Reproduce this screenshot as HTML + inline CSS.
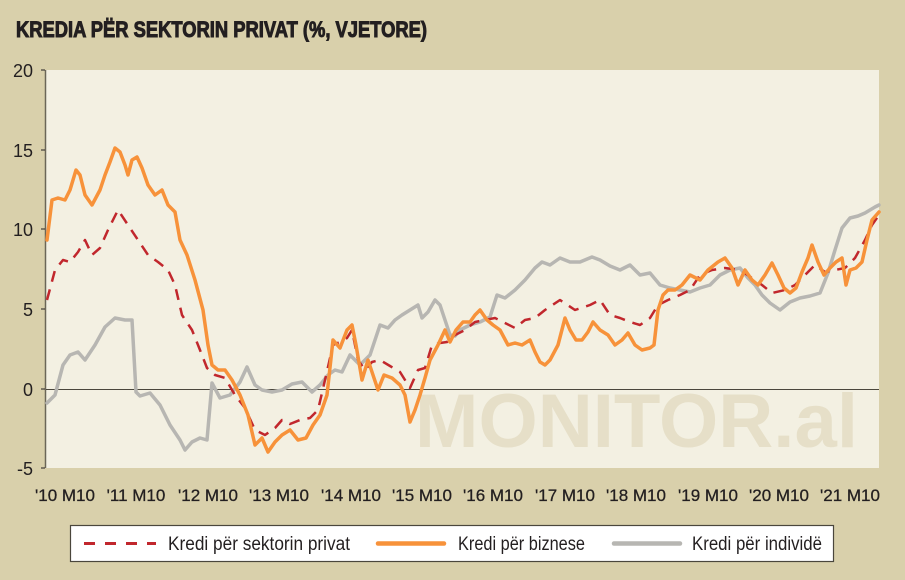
<!DOCTYPE html>
<html><head><meta charset="utf-8"><style>
html,body{margin:0;padding:0;background:#d9d0ab;}
svg{display:block;font-family:"Liberation Sans Narrow","Liberation Sans",sans-serif;}
</style></head><body>
<svg width="905" height="580" viewBox="0 0 905 580" xmlns="http://www.w3.org/2000/svg">
<rect width="905" height="580" fill="#d9d0ab"/>
<text x="16" y="37" font-size="22" font-weight="bold" fill="#231f20" stroke="#231f20" stroke-width="1" textLength="411" lengthAdjust="spacingAndGlyphs">KREDIA PËR SEKTORIN PRIVAT (%, VJETORE)</text>
<rect x="46" y="70" width="833" height="398" fill="#f3f0e2"/>
<line x1="45.5" y1="70" x2="45.5" y2="468" stroke="#6b6657" stroke-width="1.5"/>
<g stroke="#231f20" stroke-width="1">
<line x1="41" y1="70" x2="45" y2="70"/><line x1="41" y1="150" x2="45" y2="150"/><line x1="41" y1="229" x2="45" y2="229"/><line x1="41" y1="309" x2="45" y2="309"/><line x1="41" y1="389" x2="45" y2="389"/><line x1="41" y1="468" x2="45" y2="468"/>
</g>
<line x1="46" y1="389.5" x2="879" y2="389.5" stroke="#4a463c" stroke-width="1"/>
<text x="858" y="447" font-family="Liberation Sans,sans-serif" font-size="76" font-weight="bold" fill="#e6dfc8" text-anchor="end" textLength="443" lengthAdjust="spacingAndGlyphs">MONITOR.al</text>
<g font-size="18" fill="#231f20" text-anchor="end">
<text x="33" y="77">20</text><text x="33" y="157">15</text><text x="33" y="236">10</text><text x="33" y="316">5</text><text x="33" y="396">0</text><text x="33" y="475">-5</text>
</g>
<g font-size="17" fill="#231f20" text-anchor="middle" stroke="#231f20" stroke-width="0.3">
<text x="65" y="501">'10 M10</text><text x="136" y="501">'11 M10</text><text x="208" y="501">'12 M10</text><text x="279" y="501">'13 M10</text><text x="351" y="501">'14 M10</text><text x="422" y="501">'15 M10</text><text x="493" y="501">'16 M10</text><text x="565" y="501">'17 M10</text><text x="636" y="501">'18 M10</text><text x="708" y="501">'19 M10</text><text x="779" y="501">'20 M10</text><text x="850" y="501">'21 M10</text>
</g>
<g fill="none" stroke-linejoin="round" stroke-linecap="round">
<polyline stroke="#b7b6b2" stroke-width="3.5" points="47,403 55,395 63,365 70,355 78,352 85,360 95,345 105,327 115,318 125,320 132,320 136,392 140,396 150,393 160,405 170,425 180,440 185,450 192,442 200,438 207,440 212,383 220,398 230,395 240,382 247,367 255,385 262,390 272,392 282,390 292,384 302,382 312,392 320,385 328,375 335,370 342,372 350,355 360,365 370,355 380,325 388,328 395,320 402,315 410,310 418,305 422,318 428,312 435,300 440,305 445,320 450,335 455,336 460,330 470,325 480,322 490,317 497,295 505,298 515,290 525,280 535,268 542,262 550,265 560,258 570,262 580,262 592,257 600,260 610,266 620,270 630,265 640,275 650,273 660,285 670,288 680,290 690,292 700,288 710,285 720,275 730,270 740,268 748,278 755,285 762,295 770,303 780,310 790,302 800,298 810,296 820,293 828,273 835,250 842,228 850,218 858,216 865,213 870,210 875,207 879,205"/>
<polyline stroke="#c1272d" stroke-width="2.5" stroke-dasharray="11,8" stroke-linecap="butt" points="47,300 55,270 63,260 70,262 78,252 85,240 92,255 100,248 108,230 118,210 128,225 138,240 148,255 158,262 168,270 175,285 182,315 192,330 200,350 207,368 215,375 225,378 235,395 245,408 255,430 265,435 275,428 282,420 290,424 300,420 310,418 318,410 325,380 333,345 340,342 347,338 352,330 358,360 365,370 372,362 380,360 390,366 400,372 410,388 418,370 425,368 432,345 440,343 447,342 455,335 465,330 475,322 485,320 495,318 505,323 515,328 525,320 535,318 545,310 560,300 575,310 590,305 600,300 610,315 620,318 630,322 640,325 650,318 658,305 668,300 680,295 690,290 700,275 712,270 725,268 740,270 752,278 762,285 772,293 785,290 795,285 805,275 815,265 825,272 835,270 845,268 855,258 865,240 872,225 879,215"/>
<polyline stroke="#f7923a" stroke-width="3.5" points="47,240 52,200 58,198 65,200 70,190 76,170 80,175 85,195 92,205 100,190 105,175 110,162 115,148 120,152 125,165 128,175 132,160 137,157 142,168 148,185 155,195 162,190 168,205 175,212 180,240 187,255 195,280 203,310 208,345 212,365 218,370 225,370 232,380 240,395 248,415 255,445 262,438 268,452 275,442 282,435 290,430 298,440 306,438 313,425 320,415 327,395 333,340 340,348 347,330 352,325 356,345 362,380 368,360 373,375 378,390 384,375 392,378 400,385 405,395 410,422 415,410 420,395 425,378 430,360 438,345 445,330 450,342 456,330 463,322 470,322 475,315 480,310 487,320 493,325 500,330 508,345 515,343 522,345 530,340 535,352 540,362 545,365 550,360 558,345 565,318 570,330 576,340 582,340 588,332 593,322 600,330 608,335 615,345 622,340 628,333 635,345 642,350 650,348 654,345 658,310 663,295 668,290 675,290 682,285 690,275 700,280 708,270 718,262 725,258 732,268 738,285 745,270 752,280 758,285 765,275 772,263 778,275 784,288 790,293 796,288 802,272 808,258 812,245 818,262 824,275 830,268 836,262 842,258 846,285 850,270 856,268 862,262 867,240 872,220 879,212"/>
</g>
<rect x="70.5" y="525.5" width="763" height="36" fill="#ffffff" stroke="#4a463c" stroke-width="1.2"/>
<line x1="84" y1="543.5" x2="156" y2="543.5" stroke="#c1272d" stroke-width="3" stroke-dasharray="11,10"/>
<text x="168" y="550" font-size="19" fill="#231f20" textLength="182" lengthAdjust="spacingAndGlyphs">Kredi për sektorin privat</text>
<line x1="378" y1="543.5" x2="444" y2="543.5" stroke="#f7923a" stroke-width="4.5" stroke-linecap="round"/>
<text x="458" y="550" font-size="19" fill="#231f20" textLength="127" lengthAdjust="spacingAndGlyphs">Kredi për biznese</text>
<line x1="614" y1="543.5" x2="680" y2="543.5" stroke="#b7b6b2" stroke-width="4.5" stroke-linecap="round"/>
<text x="692" y="550" font-size="19" fill="#231f20" textLength="130" lengthAdjust="spacingAndGlyphs">Kredi për individë</text>
</svg>
</body></html>
